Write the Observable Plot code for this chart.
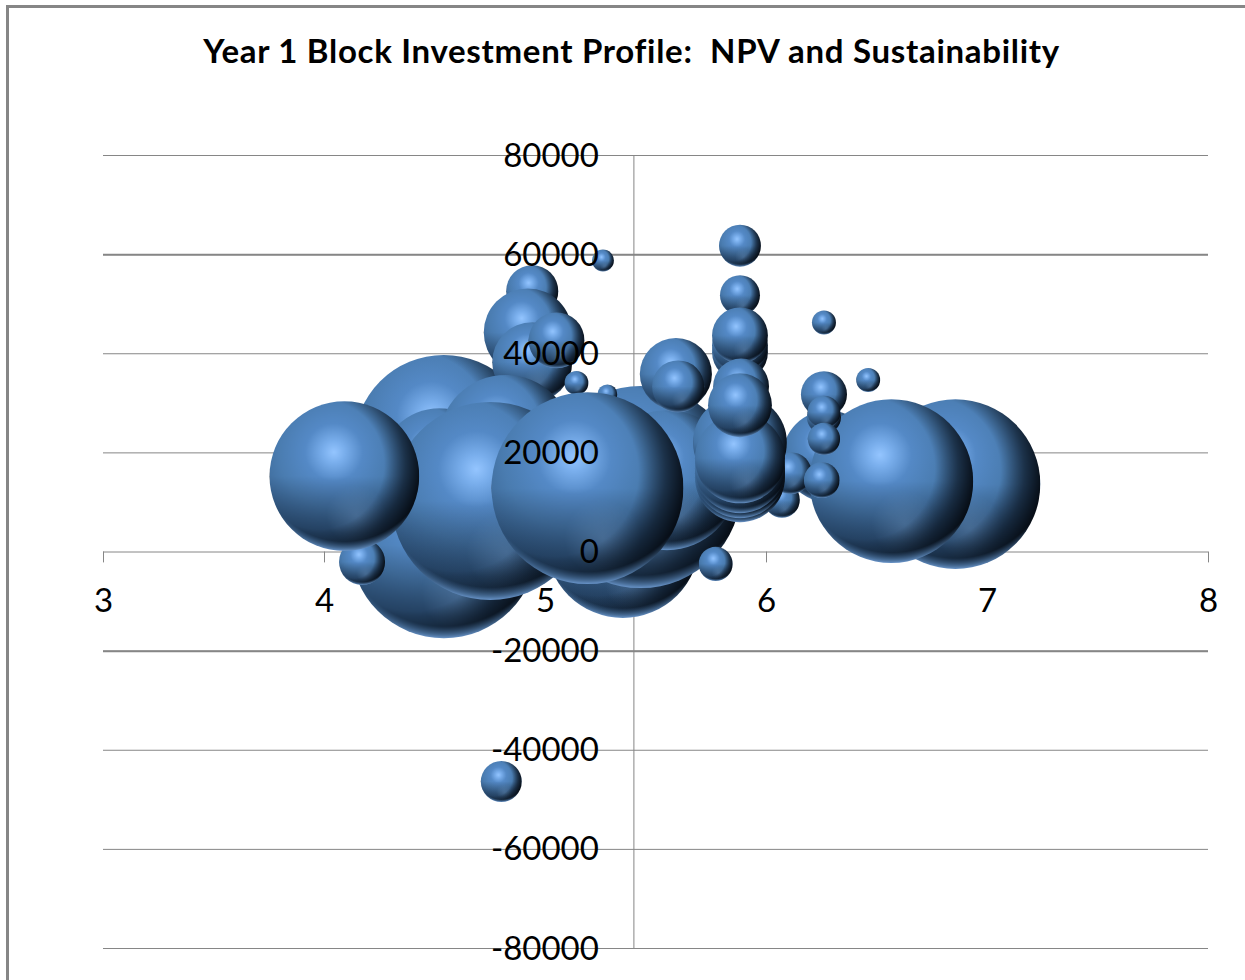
<!DOCTYPE html>
<html>
<head>
<meta charset="utf-8">
<script src="https://cdn.jsdelivr.net/npm/d3@7"></script>
<script src="https://cdn.jsdelivr.net/npm/@observablehq/plot@0.6"></script>
<style>
html,body{margin:0;padding:0;background:#fff;overflow:hidden;width:1245px;height:980px;}
#frame{position:absolute;left:6px;top:5px;width:1400px;height:1200px;border:3px solid #868686;box-sizing:border-box;}
#title{position:absolute;left:0;top:29px;width:1263px;text-align:center;font:bold 33px Lato,sans-serif;letter-spacing:.7px;color:#000;white-space:pre;line-height:42px;}
#chart{position:absolute;left:0;top:100px;}
#chart svg{display:block;overflow:visible;}
</style>
</head>
<body>
<div id="frame"></div>
<div id="title">Year 1 Block Investment Profile:  NPV and Sustainability</div>
<div id="chart"></div>
<script>
const xs = [4.54,4.54,5.35,5.43,5.55,5.59,5.60,4.94,4.92,4.94,5.05,4.52,4.82,4.17,4.75,4.09,5.14,5.28,5.26,5.19,
  6.28,6.07,6.11,5.88,5.88,5.88,5.88,5.88,5.88,5.88,5.88,5.88,5.88,5.885,5.88,
  6.855,6.565,6.26,6.26,6.26,6.26,6.25,6.26,6.46,5.77,4.80];
const ys = [1400,21600,2200,13100,14500,35900,33400,52600,44300,38300,42700,16900,22200,-2000,10300,15300,34100,31800,58800,12900,
  19300,10500,15900,61800,51800,40300,41700,43700,22100,15100,15900,16900,18900,33400,29600,
  13700,14300,31800,27200,28200,22800,14500,46300,34700,-2400,-46300];
const sizes = [87,81,59,102,49,13,6.8,6.8,19.4,16,7.8,36,45,5.3,98,56,1.44,1,1.2,92,
  21,3.2,4.4,4.4,4,7.8,7.8,7.8,22,20.25,20.25,20.25,20.25,7.8,10.2,
  72,67,5.3,2.9,2.7,2.6,3.2,1.44,1.44,2.9,4.2];
const xTicks = [3,4,5,6,7,8];
const yTicks = [80000,60000,40000,20000,0,-20000,-40000,-60000,-80000];
const heavyGrid = [60000,-20000];
const crossX = 5.4;
const points = xs.map((x,i)=>({x, y:ys[i], size:sizes[i]}));

const grey = "#868686";
const plot = Plot.plot({
  width:1245, height:880,
  marginLeft:103, marginRight:37, marginTop:55, marginBottom:32,
  style:{background:"transparent", overflow:"visible"},
  x:{domain:[3,8], axis:null},
  y:{domain:[-80000,80000], axis:null},
  r:{type:"sqrt", domain:[0,100], range:[0,100]},
  marks:[
    Plot.ruleY(yTicks,{stroke:grey, strokeWidth:1}),
    Plot.ruleY(heavyGrid,{stroke:grey, strokeWidth:2}),
    Plot.ruleX([crossX],{stroke:grey, strokeWidth:1}),
    Plot.ruleX(xTicks,{y1:0, y2:-2200, stroke:grey, strokeWidth:1}),
    Plot.dot(points,{x:"x", y:"y", r:"size", fill:"url(#sphere)", stroke:"none", sort:null}),
    Plot.text(yTicks,{x:crossX, y:d=>d, text:d=>String(d), dx:-35, dy:0.5, textAnchor:"end", fontSize:33, fontFamily:"Lato, sans-serif", fill:"#000"}),
    Plot.text(xTicks,{x:d=>d, y:0, text:d=>String(d), dy:49, fontSize:33, fontFamily:"Lato, sans-serif", fill:"#000"})
  ]
});
const ns="http://www.w3.org/2000/svg";
const defs=document.createElementNS(ns,"defs");
defs.innerHTML=`
<radialGradient id="sBase" gradientUnits="objectBoundingBox" cx=".43" cy=".34" r=".74">
  <stop offset="0" stop-color="#94c5ff"/><stop offset=".1" stop-color="#79aeec"/>
  <stop offset=".26" stop-color="#5489c6"/><stop offset=".5" stop-color="#4a7cb0"/>
  <stop offset=".75" stop-color="#3a6593"/><stop offset="1" stop-color="#2f5279"/>
</radialGradient>
<linearGradient id="sLow" gradientUnits="objectBoundingBox" x1="0" y1="0" x2="0" y2="1">
  <stop offset=".5" stop-color="#12243a" stop-opacity="0"/>
  <stop offset=".88" stop-color="#12243a" stop-opacity=".6"/>
</linearGradient>
<radialGradient id="sDark" gradientUnits="objectBoundingBox" cx=".33" cy=".42" r=".68">
  <stop offset=".64" stop-color="#0a1420" stop-opacity="0"/>
  <stop offset=".85" stop-color="#0a1420" stop-opacity=".68"/>
  <stop offset="1" stop-color="#060c14" stop-opacity=".97"/>
</radialGradient>
<radialGradient id="sRim" gradientUnits="objectBoundingBox" cx=".5" cy=".36" r=".64">
  <stop offset=".9" stop-color="#4a77a8" stop-opacity="0"/>
  <stop offset=".97" stop-color="#5c89bc" stop-opacity=".7"/>
  <stop offset="1" stop-color="#6e9bd2" stop-opacity=".95"/>
</radialGradient>
<radialGradient id="sPatch" gradientUnits="objectBoundingBox" cx=".58" cy=".76" r=".2">
  <stop offset="0" stop-color="#7aa2cf" stop-opacity=".3"/><stop offset="1" stop-color="#7aa2cf" stop-opacity="0"/>
</radialGradient>
<pattern id="sphere" patternUnits="objectBoundingBox" patternContentUnits="objectBoundingBox" width="1" height="1">
  <rect width="1" height="1" fill="url(#sBase)"/>
  <rect width="1" height="1" fill="url(#sLow)"/>
  <rect width="1" height="1" fill="url(#sPatch)"/>
  <rect width="1" height="1" fill="url(#sDark)"/>
  <rect width="1" height="1" fill="url(#sRim)"/>
</pattern>`;
plot.insertBefore(defs,plot.firstChild);
document.getElementById("chart").appendChild(plot);
</script>
</body>
</html>
